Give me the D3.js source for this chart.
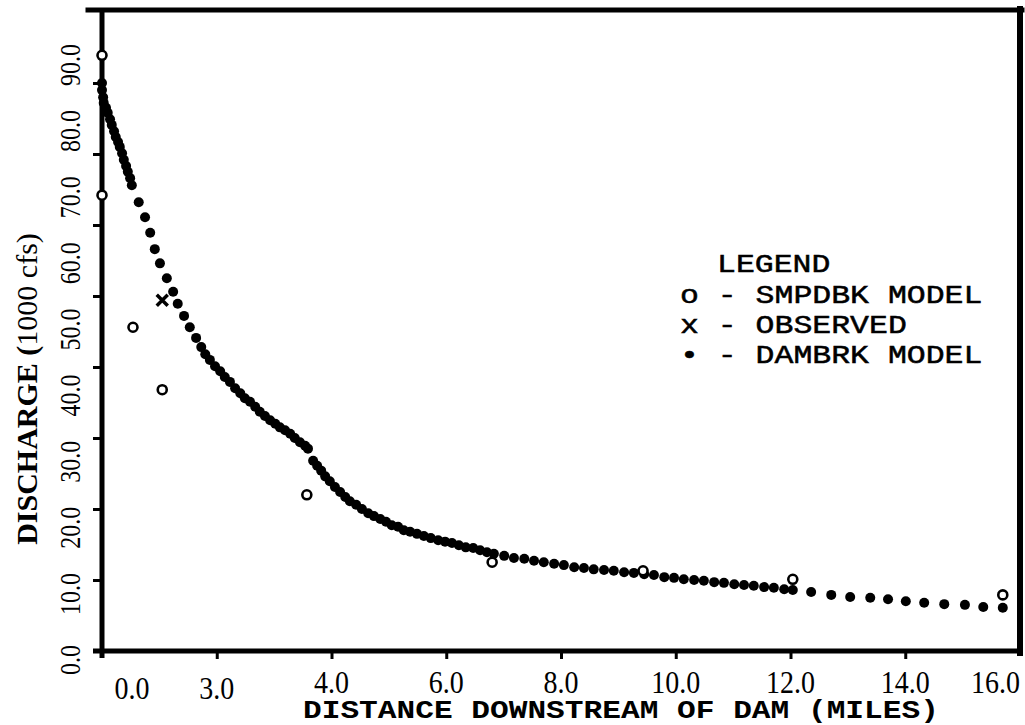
<!DOCTYPE html>
<html>
<head>
<meta charset="utf-8">
<script src="https://cdn.jsdelivr.net/npm/d3@7"></script>
<style>
  html, body { margin: 0; padding: 0; background: #fff; }
  svg { display: block; }
</style>
</head>
<body>
<svg id="chart" width="1025" height="725"></svg>
<script>
// Peak discharge routed downstream of the dam: DAMBRK vs SMPDBK vs observed.

// Axis ticks and their printed labels
const distTicks = [0, 2, 4, 6, 8, 10, 12, 14, 16];
const distTickLabels = ["0.0", "3.0", "4.0", "6.0", "8.0", "10.0", "12.0", "14.0", "16.0"];
const qTicks = [0, 10, 20, 30, 40, 50, 60, 70, 80, 90];
const qTickLabels = ["0.0", "10.0", "20.0", "30.0", "40.0", "50.0", "60.0", "70.0", "80.0", "90.0"];

// DAMBRK model: distance (miles) and discharge (1000 cfs)
const damDist = [
  0.00, 0.00, 0.02, 0.03, 0.07, 0.10, 0.14, 0.17, 0.21, 0.24, 0.28, 0.31, 0.35, 0.38, 0.42, 0.45, 0.49, 0.52,
  0.64, 0.75, 0.84, 0.92, 1.01, 1.13, 1.24, 1.32, 1.43, 1.53, 1.64, 1.73,
  1.80, 1.88, 1.97, 2.06, 2.14, 2.23, 2.32, 2.41, 2.49, 2.58, 2.67, 2.75, 2.84, 2.93, 3.02, 3.10, 3.19, 3.28, 3.36, 3.45, 3.54, 3.59,
  3.68, 3.75, 3.82, 3.89, 3.97, 4.06, 4.15, 4.24, 4.32, 4.43, 4.53, 4.64, 4.74, 4.85, 4.95, 5.05, 5.16, 5.26, 5.37, 5.49,
  5.61, 5.73, 5.86, 5.98, 6.10, 6.22, 6.34, 6.47, 6.59, 6.71, 6.83,
  7.01, 7.18, 7.36, 7.53, 7.70, 7.88, 8.05, 8.23, 8.40, 8.57, 8.75, 8.92, 9.10, 9.27, 9.45, 9.62, 9.80, 9.97,
  10.14, 10.32, 10.49, 10.67, 10.84, 11.02, 11.19, 11.36, 11.54, 11.71, 11.89, 12.04,
  12.36, 12.71, 13.04, 13.39, 13.70, 14.01, 14.33, 14.68, 15.04, 15.36, 15.70
];
const damQ = [
  80.0, 79.0, 78.0, 77.2, 76.5, 75.8, 74.9, 74.1, 73.2, 72.4, 71.7, 71.0, 70.1, 69.2, 68.3, 67.5, 66.6, 65.6,
  63.2, 61.1, 58.9, 56.6, 54.6, 52.5, 50.6, 48.9, 47.2, 45.6, 44.1, 42.8,
  41.8, 41.0, 40.1, 39.4, 38.6, 37.9, 37.0, 36.3, 35.6, 35.1, 34.4, 33.7, 33.1, 32.5, 32.0, 31.5, 31.1, 30.6, 30.0, 29.4, 28.9, 28.5,
  26.8, 26.1, 25.4, 24.6, 23.9, 23.1, 22.4, 21.7, 21.1, 20.6, 20.0, 19.4, 19.0, 18.6, 18.2, 17.7, 17.5, 17.0, 16.8, 16.5,
  16.2, 15.9, 15.6, 15.4, 15.2, 14.9, 14.6, 14.5, 14.2, 13.9, 13.7,
  13.4, 13.1, 13.0, 12.7, 12.5, 12.3, 12.1, 11.8, 11.7, 11.5, 11.4, 11.3, 11.1, 11.0, 10.8, 10.7, 10.4, 10.3,
  10.1, 10.0, 9.9, 9.7, 9.6, 9.4, 9.3, 9.2, 9.0, 8.9, 8.7, 8.6,
  8.3, 7.9, 7.6, 7.5, 7.3, 7.0, 6.8, 6.6, 6.5, 6.2, 6.1
];

// SMPDBK model
const smpDist = [0.0, 0.0, 0.54, 1.05, 3.57, 6.80, 9.43, 12.04, 15.70];
const smpQ = [83.9, 64.2, 45.6, 36.8, 22.0, 12.5, 11.3, 10.1, 7.9];

// Observed
const obsDist = [1.05];
const obsQ = [49.4];

// Legend text
const legendTitle = "LEGEND";
const legendLines = ["o - SMPDBK MODEL", "x - OBSERVED", "\u2022 - DAMBRK MODEL"];

const svg = d3.select("#chart");
const plotLeft = 102, plotRight = 1020, plotTop = 12, plotBottom = 651;

const x = d3.scaleLinear().domain([0, 16]).range([plotLeft, plotRight]);
const y = d3.scaleLinear().domain([0, 90]).range([plotBottom, plotTop]);
// printed value labels on the discharge axis sit on their own spacing
const yLab = d3.scaleLinear().domain([0, 90]).range([660, 65]);

const serif = "'Liberation Serif', 'Times New Roman', serif";
const mono = "'Liberation Mono', 'Courier New', monospace";

// ---- frame ----
const frame = svg.append("g").attr("stroke", "#000").attr("stroke-linecap", "square");
frame.append("line").attr("x1", 88).attr("x2", plotRight + 2).attr("y1", 10).attr("y2", 10).attr("stroke-width", 5);
frame.append("line").attr("x1", plotRight).attr("x2", plotRight).attr("y1", 9).attr("y2", plotBottom + 2).attr("stroke-width", 6);

// ---- axes ----
const yAxis = svg.append("g")
  .attr("transform", `translate(${plotLeft},0)`)
  .call(d3.axisLeft(y).tickValues(qTicks.slice(0, -1)).tickSize(9).tickSizeOuter(0).tickFormat(""));
yAxis.select(".domain").attr("d", `M0,9V${plotBottom + 7}`).attr("stroke", "#000").attr("stroke-width", 5);
yAxis.selectAll(".tick line").attr("stroke", "#000").attr("stroke-width", 3);

const xAxis = svg.append("g")
  .attr("transform", `translate(0,${plotBottom})`)
  .call(d3.axisBottom(x).tickValues(distTicks.slice(1, -1)).tickSize(8).tickSizeOuter(0).tickFormat(""));
xAxis.select(".domain").attr("d", `M${plotLeft - 9},0H${plotRight}`).attr("stroke", "#000").attr("stroke-width", 5);
xAxis.selectAll(".tick line").attr("stroke", "#000").attr("stroke-width", 3);

// discharge tick labels (rotated)
svg.append("g").selectAll("text")
  .data(qTicks)
  .join("text")
  .attr("transform", (d) => `translate(80,${yLab(d)}) rotate(-90) scale(1,1.22)`)
  .attr("text-anchor", "middle")
  .attr("font-family", serif)
  .attr("font-size", 24)
  .attr("fill", "#000")
  .text((d, i) => qTickLabels[i]);

// distance tick labels
const nX = distTicks.length;
svg.append("g").selectAll("text")
  .data(distTicks)
  .join("text")
  .attr("transform", (d, i) => {
    let px = x(d);
    if (i === 0) px += 30;
    const base = (i === 0 || i === 1) ? 699 : 693;
    return `translate(${px},${base}) scale(1,1.12)`;
  })
  .attr("text-anchor", (d, i) => (i === nX - 1 ? "end" : "middle"))
  .attr("font-family", serif)
  .attr("font-size", 28)
  .attr("fill", "#000")
  .text((d, i) => distTickLabels[i]);

// axis titles
const yTitle = svg.append("text")
  .attr("transform", "translate(37,389) rotate(-90)")
  .attr("text-anchor", "middle")
  .attr("font-family", serif)
  .attr("font-size", 30)
  .attr("fill", "#000");
yTitle.append("tspan").attr("font-weight", "bold").text("DISCHARGE (");
yTitle.append("tspan").text("1000 cfs)");

// typewriter-style text: glyphs widened to an 18.7px cell
const cellScale = (size, cell) => cell / (size * 0.6);

const xTitle = "DISTANCE DOWNSTREAM OF DAM (MILES)";
svg.append("text")
  .attr("transform", `translate(303,718) scale(${cellScale(25, 18.7)},1)`)
  .attr("font-family", mono)
  .attr("font-weight", "bold")
  .attr("font-size", 25)
  .attr("fill", "#000")
  .text(xTitle);

// ---- data ----
const damPts = damDist.map((d, i) => [d, damQ[i]]);
svg.append("g").selectAll("circle")
  .data(damPts)
  .join("circle")
  .attr("cx", (d) => x(d[0]))
  .attr("cy", (d) => y(d[1]))
  .attr("r", 5)
  .attr("fill", "#000");

const smpPts = smpDist.map((d, i) => [d, smpQ[i]]);
svg.append("g").selectAll("circle")
  .data(smpPts)
  .join("circle")
  .attr("cx", (d) => x(d[0]))
  .attr("cy", (d) => y(d[1]))
  .attr("r", 4.5)
  .attr("fill", "#fff")
  .attr("stroke", "#000")
  .attr("stroke-width", 2.6);

const obsPts = obsDist.map((d, i) => [d, obsQ[i]]);
svg.append("g").selectAll("path")
  .data(obsPts)
  .join("path")
  .attr("d", (d) => {
    const cx = x(d[0]), cy = y(d[1]), s = 5.5;
    return `M${cx - s},${cy - s}L${cx + s},${cy + s}M${cx - s},${cy + s}L${cx + s},${cy - s}`;
  })
  .attr("stroke", "#000")
  .attr("stroke-width", 3.5);

// ---- legend ----
const legSize = 26;
const legend = svg.append("g")
  .attr("font-family", mono)
  .attr("font-size", legSize)
  .attr("fill", "#000")
  .attr("stroke", "#000")
  .attr("stroke-width", 0.5);
legend.append("text")
  .attr("transform", `translate(717,272) scale(${cellScale(legSize, 18.9)},1)`)
  .text(legendTitle);
legend.selectAll("text.item")
  .data(legendLines)
  .join("text")
  .attr("class", "item")
  .attr("transform", (d, i) => `translate(680,${303 + i * 30}) scale(${cellScale(legSize, 18.9)},1)`)
  .text((d) => d);
</script>
</body>
</html>
